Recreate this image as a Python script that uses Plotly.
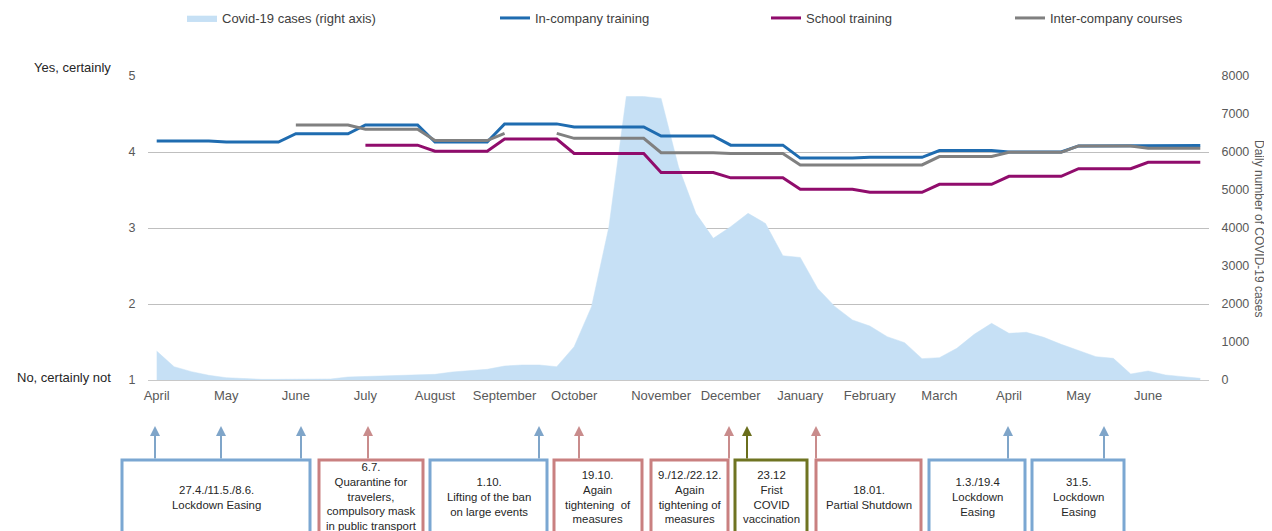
import plotly.graph_objects as go

# ---------------- data ----------------
month_labels = ["April", "May", "June", "July", "August", "September", "October",
                "November", "December", "January", "February", "March", "April", "May", "June"]
month_index = [0, 4, 8, 12, 16, 20, 24, 29, 33, 37, 41, 45, 49, 53, 57]
weeks = list(range(61))

covid_cases = [760, 350, 220, 123, 61, 35, 18, 18, 18, 18,
               26, 79, 96, 96, 114, 140, 149, 211, 254, 281,
               368, 395, 395, 350, 877, 1930, 4035, 7460, 7460, 7410,
               5610, 4385, 3727, 4035, 4385, 4120, 3270, 3225, 2410, 1930,
               1580, 1421, 1140, 983, 562, 588, 833, 1202, 1491, 1228,
               1255, 1123, 939, 772, 614, 570, 158, 237, 132, 88,
               44]

in_company = [4.145, 4.145, 4.145, 4.145, 4.13, 4.13, 4.13, 4.13, 4.24, 4.24,
              4.24, 4.24, 4.355, 4.355, 4.355, 4.355, 4.13, 4.13, 4.13, 4.13,
              4.37, 4.37, 4.37, 4.37, 4.33, 4.33, 4.33, 4.33, 4.33, 4.21,
              4.21, 4.21, 4.21, 4.09, 4.09, 4.09, 4.09, 3.92, 3.92, 3.92,
              3.92, 3.93, 3.93, 3.93, 3.93, 4.02, 4.02, 4.02, 4.02, 4.0,
              4.0, 4.0, 4.0, 4.08, 4.08, 4.08, 4.08, 4.085, 4.085, 4.085,
              4.085]

school = [None, None, None, None, None, None, None, None, None, None,
          None, None, 4.09, 4.09, 4.09, 4.09, 4.01, 4.01, 4.01, 4.01,
          4.17, 4.17, 4.17, 4.17, 3.98, 3.98, 3.98, 3.98, 3.98, 3.73,
          3.73, 3.73, 3.73, 3.66, 3.66, 3.66, 3.66, 3.51, 3.51, 3.51,
          3.51, 3.47, 3.47, 3.47, 3.47, 3.575, 3.575, 3.575, 3.575, 3.68,
          3.68, 3.68, 3.68, 3.78, 3.78, 3.78, 3.78, 3.865, 3.865, 3.865,
          3.865]

inter_company = [None, None, None, None, None, None, None, None, 4.355, 4.355,
                 4.355, 4.355, 4.30, 4.30, 4.30, 4.30, 4.15, 4.15, 4.15, 4.15,
                 4.245, None, None, 4.245, 4.18, 4.18, 4.18, 4.18, 4.18, 3.99,
                 3.99, 3.99, 3.99, 3.98, 3.98, 3.98, 3.98, 3.83, 3.83, 3.83,
                 3.83, 3.83, 3.83, 3.83, 3.83, 3.94, 3.94, 3.94, 3.94, 3.996,
                 3.996, 3.996, 3.996, 4.08, 4.08, 4.08, 4.08, 4.05, 4.05, 4.05,
                 4.05]

event_texts = [
    "27.4./11.5./8.6.<br>Lockdown Easing",
    "6.7.<br>Quarantine for<br>travelers,<br>compulsory mask<br>in public transport",
    "1.10.<br>Lifting of the ban<br>on large events",
    "19.10.<br>Again<br>tightening  of<br>measures",
    "9./12./22.12.<br>Again<br>tightening of<br>measures",
    "23.12<br>Frist<br>COVID<br>vaccination",
    "18.01.<br>Partial Shutdown",
    "1.3./19.4<br>Lockdown<br>Easing",
    "31.5.<br>Lockdown<br>Easing",
]
event_kinds = ["ease", "tight", "ease", "tight", "tight", "vacc", "tight", "ease", "ease"]

# ---------------- layout helpers ----------------
# the page body has an 8px margin, so the figure is 8px smaller each way
OFF = 8
W, H = 1272 - OFF, 531 - OFF
# plot area in page pixels
L, R, T, B = 148, 1209, 76, 380


def px(x):
    return (x - L) / (R - L)


def py(y):
    return (B - y) / (B - T)


box_x = [(122, 310), (319, 423), (430, 547), (554, 642), (651, 728),
         (735, 807), (816, 921), (929, 1025), (1032, 1124)]
box_text_y = [497, 496, 497, 497, 497, 497, 497, 497, 497]
arrow_x = [[155, 221, 301], [368], [539], [579], [729], [747], [816], [1008], [1104]]
box_color = {"ease": "#7ba7d2", "tight": "#c98080", "vacc": "#6f7422"}
arrow_color = {"ease": "#7fa5c9", "tight": "#c98c8c", "vacc": "#6a6e1c"}

FONT = "Liberation Sans, Arial, sans-serif"

fig = go.Figure()
fig.add_trace(go.Scatter(
    x=weeks, y=covid_cases, name="Covid-19 cases (right axis)", mode="lines",
    fill="tozeroy", fillcolor="#c6e0f5", line=dict(width=0.5, color="#c6e0f5"),
    yaxis="y", legend="legend"))
fig.add_trace(go.Scatter(
    x=weeks, y=in_company, name="In-company training", mode="lines",
    line=dict(color="#1f6cb0", width=3), yaxis="y2", legend="legend2"))
fig.add_trace(go.Scatter(
    x=weeks, y=school, name="School training", mode="lines",
    line=dict(color="#900c6c", width=3), yaxis="y2", legend="legend3"))
fig.add_trace(go.Scatter(
    x=weeks, y=inter_company, name="Inter-company courses", mode="lines",
    line=dict(color="#808080", width=3), yaxis="y2", legend="legend4"))

shapes = []
annotations = []
for txt, kind, (x0, x1), ty, arrs in zip(event_texts, event_kinds, box_x, box_text_y, arrow_x):
    shapes.append(dict(type="rect", xref="paper", yref="paper",
                       x0=px(x0), x1=px(x1), y0=py(460), y1=py(560),
                       line=dict(color=box_color[kind], width=3),
                       fillcolor="rgba(0,0,0,0)", layer="above"))
    annotations.append(dict(xref="paper", yref="paper", x=px((x0 + x1) / 2), y=py(ty),
                            text=txt, showarrow=False, xanchor="center", yanchor="middle",
                            font=dict(family=FONT, size=11.4, color="#262626"), align="center"))
    for a in arrs:
        annotations.append(dict(xref="paper", yref="paper", x=px(a), y=py(426), text="",
                                showarrow=True, ax=0, ay=34, arrowhead=2, arrowsize=1,
                                arrowwidth=2, arrowcolor=arrow_color[kind], standoff=0))

annotations.append(dict(xref="paper", yref="paper", x=px(113), y=py(68), text="Yes, certainly",
                        showarrow=False, xanchor="right", yanchor="middle",
                        font=dict(family=FONT, size=13, color="#262626")))
annotations.append(dict(xref="paper", yref="paper", x=px(113), y=py(377), text="No, certainly not",
                        showarrow=False, xanchor="right", yanchor="middle",
                        font=dict(family=FONT, size=13, color="#262626")))
annotations.append(dict(xref="paper", yref="paper", x=px(1259), y=py(228),
                        text="Daily number of COVID-19 cases", textangle=90,
                        showarrow=False, xanchor="center", yanchor="middle",
                        font=dict(family=FONT, size=12, color="#595959")))


def leg(xpix):
    return dict(x=px(xpix), y=py(18), xanchor="left", yanchor="middle", orientation="h",
                font=dict(family=FONT, size=13, color="#404040"),
                bgcolor="rgba(0,0,0,0)", itemwidth=30)


fig.update_layout(
    width=W, height=H,
    margin=dict(l=L - OFF, r=W - (R - OFF), t=T - OFF, b=H - (B - OFF), autoexpand=False),
    paper_bgcolor="white", plot_bgcolor="white",
    font=dict(family=FONT, size=12, color="#595959"),
    showlegend=True,
    legend=leg(182), legend2=leg(495), legend3=leg(766), legend4=leg(1010),
    xaxis=dict(range=[-0.5, 60.5], tickmode="array", tickvals=month_index, ticktext=month_labels,
               showgrid=False, zeroline=False, showline=True, linecolor="#c8c8c8", linewidth=1,
               ticks="outside", ticklen=3, tickcolor="rgba(0,0,0,0)",
               tickfont=dict(family=FONT, size=13, color="#595959"), fixedrange=True),
    yaxis=dict(side="right", range=[0, 8000], dtick=1000, showgrid=False, zeroline=False,
               showline=False, ticks="outside", ticklen=9, tickcolor="rgba(0,0,0,0)",
               tickfont=dict(family=FONT, size=12.5, color="#595959")),
    yaxis2=dict(side="left", overlaying="y", range=[1, 5], dtick=1, showgrid=True,
                gridcolor="#bfbfbf", gridwidth=1, zeroline=False, showline=False,
                ticks="outside", ticklen=9, tickcolor="rgba(0,0,0,0)",
                tickfont=dict(family=FONT, size=12.5, color="#595959")),
    shapes=shapes, annotations=annotations,
    hovermode=False,
)

fig.write_html("out.html")
